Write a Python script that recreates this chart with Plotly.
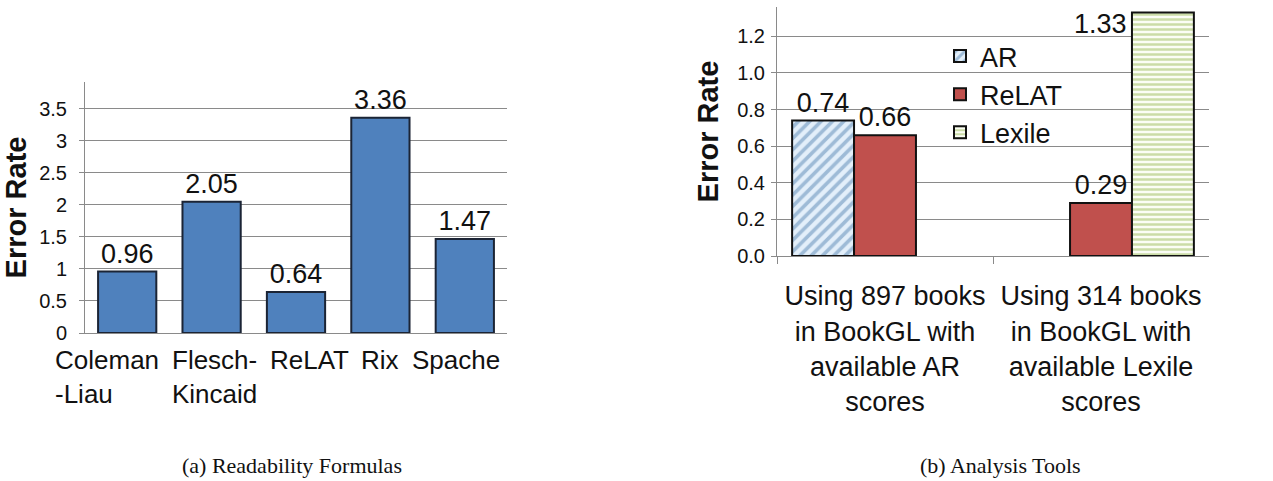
import plotly.graph_objects as go

# ---- data ----
formula_names = ["Coleman-Liau", "Flesch-Kincaid", "ReLAT", "Rix", "Spache"]
formula_labels = ["Coleman<br>-Liau", "Flesch-<br>Kincaid", "ReLAT", "Rix", "Spache"]
formula_error = [0.96, 2.05, 0.64, 3.36, 1.47]

tool_groups = [
    "Using 897 books<br>in BookGL with<br>available AR<br>scores",
    "Using 314 books<br>in BookGL with<br>available Lexile<br>scores",
]
ar_error = [0.74, None]
relat_error = [0.66, 0.29]
lexile_error = [None, 1.33]

left_ticks = [0, 0.5, 1, 1.5, 2, 2.5, 3, 3.5]
right_ticks = [0.0, 0.2, 0.4, 0.6, 0.8, 1.0, 1.2]

W, H = 1273, 481
SANS = "Liberation Sans, Arial, sans-serif"
SERIF = "Liberation Serif, Times New Roman, serif"
GRID = "#8a8a8a"

# sideways nudges (px) for the wrapped category captions under panel (a)
label_nudge = [-20, 3, 13, 0, -9]

fig = go.Figure()

# (a) readability formulas
fig.add_trace(go.Bar(
    x=formula_names, y=formula_error, width=0.69,
    marker=dict(color="#4F81BD", line=dict(color="#1b2435", width=2)),
    text=[f"{v:.2f}" for v in formula_error], textposition="outside",
    textfont=dict(family=SANS, size=27, color="#111"),
    constraintext="none", cliponaxis=False, showlegend=False,
    xaxis="x", yaxis="y",
))

# (b) analysis tools
fig.add_trace(go.Bar(
    name="AR", x=tool_groups, y=ar_error,
    marker=dict(color="#dbe9f6", line=dict(color="#111", width=2),
                pattern=dict(shape="/", fgcolor="#5a87b3", bgcolor="#e3effa",
                             size=8, solidity=0.45)),
    text=[f"{v:.2f}" if v is not None else "" for v in ar_error],
    textposition="outside", textfont=dict(family=SANS, size=27, color="#111"),
    constraintext="none", cliponaxis=False,
    xaxis="x2", yaxis="y2",
))
fig.add_trace(go.Bar(
    name="ReLAT", x=tool_groups, y=relat_error,
    marker=dict(color="#C0504D", line=dict(color="#111", width=2)),
    text=[f"{v:.2f}" for v in relat_error],
    textposition="outside", textfont=dict(family=SANS, size=27, color="#111"),
    constraintext="none", cliponaxis=False,
    xaxis="x2", yaxis="y2",
))
fig.add_trace(go.Bar(
    name="Lexile", x=tool_groups, y=lexile_error,
    marker=dict(color="#ffffff", line=dict(color="#111", width=2),
                pattern=dict(shape="-", fgcolor="#9BBB59", bgcolor="#fbfdf5",
                             size=5, solidity=0.5)),
    cliponaxis=False,
    xaxis="x2", yaxis="y2",
))

# label for the Lexile bar, set beside its top edge
fig.add_annotation(
    x=tool_groups[1], y=lexile_error[1], xref="x2", yref="y2",
    text=f"{lexile_error[1]:.2f}", showarrow=False,
    xanchor="right", yanchor="middle", xshift=28, yshift=-12,
    font=dict(family=SANS, size=27, color="#111"),
)

# wrapped category captions for panel (a), left-aligned like a word-wrapped cell
for name, label, dx in zip(formula_names, formula_labels, label_nudge):
    fig.add_annotation(
        x=name, y=0, xref="x", yref="y", text=label, showarrow=False,
        xanchor="center", yanchor="top", align="left",
        xshift=dx, yshift=-11, borderpad=0,
        font=dict(family=SANS, size=26, color="#111"),
    )

axis_font = dict(family=SANS, size=20, color="#111")
cat_font2 = dict(family=SANS, size=27, color="#111")
title_font = dict(family=SANS, size=29, color="#111", weight="bold")

fig.update_layout(
    width=W, height=H, autosize=False,
    margin=dict(l=0, r=0, t=0, b=0, autoexpand=False),
    paper_bgcolor="white", plot_bgcolor="white",
    barmode="group", bargap=0.14, bargroupgap=0,
    xaxis=dict(domain=[85 / W, 507 / W], anchor="y", type="category",
               categoryorder="array", categoryarray=formula_names,
               range=[-0.5, len(formula_names) - 0.5],
               showticklabels=False, automargin=False,
               showline=True, linecolor=GRID, linewidth=1,
               ticks="", showgrid=False),
    yaxis=dict(domain=[1 - 333 / H, 1 - 82 / H], anchor="x", range=[0, 3.92],
               tickvals=left_ticks, ticktext=[f"{v:g}" for v in left_ticks],
               tickfont=axis_font, showgrid=True, gridcolor=GRID, gridwidth=1,
               showline=True, linecolor=GRID, linewidth=1, automargin=False,
               ticks="outside", ticklen=5, tickcolor=GRID, ticklabelstandoff=8,
               zeroline=False,
               title=dict(text="Error Rate", font=title_font, standoff=8)),
    xaxis2=dict(domain=[777 / W, 1209 / W], anchor="y2", type="category",
                range=[-0.5, len(tool_groups) - 0.5],
                tickfont=cat_font2, tickangle=0, automargin=False,
                showline=True, linecolor=GRID, linewidth=1,
                ticks="outside", tickson="boundaries", ticklen=7, tickcolor=GRID,
                showgrid=False, ticklabelstandoff=16),
    yaxis2=dict(domain=[1 - 256 / H, 1 - 7 / H], anchor="x2", range=[0, 1.36],
                tickvals=right_ticks, ticktext=[f"{v:.1f}" for v in right_ticks],
                tickfont=axis_font, showgrid=True, gridcolor=GRID, gridwidth=1,
                showline=True, linecolor=GRID, linewidth=1, automargin=False,
                ticks="outside", ticklen=5, tickcolor=GRID, ticklabelstandoff=2,
                zeroline=False,
                title=dict(text="Error Rate", font=title_font, standoff=10)),
    legend=dict(x=940 / W, y=1 - 32 / H, xanchor="left", yanchor="top",
                bgcolor="rgba(0,0,0,0)", font=dict(family=SANS, size=27, color="#111"),
                tracegroupgap=0, itemwidth=30),
    annotations=list(fig.layout.annotations) + [
        dict(text="(a) Readability Formulas", x=292 / W, y=1 - 465 / H,
             xref="paper", yref="paper", showarrow=False,
             xanchor="center", yanchor="middle",
             font=dict(family=SERIF, size=22, color="#111")),
        dict(text="(b) Analysis Tools", x=1000 / W, y=1 - 465 / H,
             xref="paper", yref="paper", showarrow=False,
             xanchor="center", yanchor="middle",
             font=dict(family=SERIF, size=22, color="#111")),
    ],
)

fig.write_html("out.html")
